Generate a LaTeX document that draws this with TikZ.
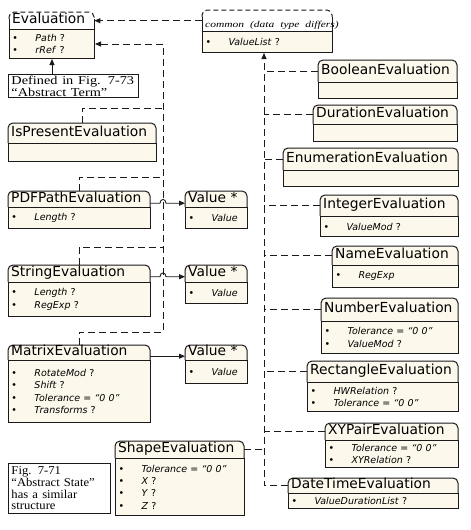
\documentclass[tikz,border=0pt]{standalone}
\usepackage{fontspec}
\usepackage{graphicx}
\setmainfont{DejaVu Sans}
\newfontfamily\serifface{Liberation Serif}
\usetikzlibrary{arrows.meta}
\definecolor{cream}{HTML}{FDF8EC}
\definecolor{lnc}{HTML}{1A1A1A}
\tikzset{
  hx/.style={},
  hdr/.style={inner ysep=0pt, inner xsep=3pt, align=left,
    font=\fontsize{13.8}{15}\selectfont, text height=9.6pt, text depth=3.6pt},
  bodyst/.style={draw=lnc, line width=1pt, fill=cream, inner ysep=0pt, inner xsep=3pt,
    align=left, font=\fontsize{9.5}{12.4}\selectfont},
  boxline/.style={draw=lnc, line width=1pt},
  conn/.style={draw=lnc, line width=0.9pt},
  dsh/.style={draw=lnc, line width=0.9pt, dash pattern=on 7pt off 4pt},
  tip/.style={-{Triangle[length=6pt,width=5pt]}},
  note/.style={draw=lnc, line width=1pt, fill=white, inner ysep=0pt, inner xsep=3pt,
    align=left, anchor=north west}
}
\newcommand\itm[1]{\makebox[23pt][l]{\textbullet}#1}
\newcommand\clsnode[8]{%
  \pgfmathsetmacro\clsw{#5-(#2)}%
  \pgfmathsetmacro\clstw{#5-(#2)-6}%
  \pgfmathsetmacro\clshh{#4-(#3)}%
  \pgfmathsetmacro\clsbh{#6-(#4)}%
  \node[hdr, hx, anchor=north west, minimum width=\clsw pt, minimum height=\clshh pt,
        text width=\clstw pt] (#1) at (#2,#3) {#7};
  \node[bodyst, anchor=north west, minimum width=\clsw pt, minimum height=\clsbh pt,
        text width=\clstw pt] (#1b) at (#2,#4) {#8};
}
\newcommand\ncls[8]{%
  \draw[boxline, fill=cream, rounded corners=5pt] (#2,#4) -- (#2,#3) -- (#5,#3) -- (#5,#4);
  \clsnode{#1}{#2}{#3}{#4}{#5}{#6}{#7}{#8}%
}
\newcommand\acls[8]{%
  \fill[white, rounded corners=5pt] (#2,#4) -- (#2,#3) -- (#5,#3) -- (#5,#4);
  \draw[boxline, dash pattern=on 5pt off 3pt, rounded corners=5pt]
    (#2,{#3+7}) -- (#2,#3) -- (#5,#3) -- (#5,{#3+7});
  \draw[boxline] (#2,{#3+7}) -- (#2,#4) (#5,{#3+7}) -- (#5,#4);
  \clsnode{#1}{#2}{#3}{#4}{#5}{#6}{#7}{#8}%
}
\begin{document}
\begin{tikzpicture}[x=1pt,y=-1pt]
\useasboundingbox[fill=white] (0,0) rectangle (471,530);

% abstract boxes
\acls{ev}{9}{12}{29}{94}{58}{Evaluation}{\itm{\textit{Path} ?}\\\itm{\textit{rRef} ?}}
\tikzset{hx/.style={text height=14pt,text depth=0pt}}
\acls{cm}{202}{10}{31}{332}{52}{\serifface\itshape\fontsize{9}{10}\selectfont\scalebox{1.28}[1]{common (data type differs)}}{\itm{\textit{ValueList} ?}}
\tikzset{hx/.style={}}

% left column
\ncls{isp}{8}{123}{143}{156}{161}{IsPresentEvaluation}{}
\ncls{pdf}{8}{191}{207}{150}{228}{PDFPathEvaluation}{\itm{\textit{Length} ?}}
\ncls{vone}{185}{191}{207}{247}{228}{Value *}{\itm{\textit{Value}}}
\ncls{str}{8}{265}{282}{150}{316}{StringEvaluation}{\itm{\textit{Length} ?}\\\itm{\textit{RegExp} ?}}
\ncls{vtwo}{185}{265}{282}{247}{303}{Value *}{\itm{\textit{Value}}}
\ncls{mat}{8}{345}{360}{150}{422}{MatrixEvaluation}{\itm{\textit{RotateMod} ?}\\\itm{\textit{Shift} ?}\\\itm{\textit{Tolerance = “0 0”}}\\\itm{\textit{Transforms} ?}}
\ncls{vthr}{185}{345}{360}{247}{383}{Value *}{\itm{\textit{Value}}}
\ncls{shp}{115}{441}{458}{244}{515}{ShapeEvaluation}{\itm{\textit{Tolerance = “0 0”}}\\\itm{\textit{X} ?}\\\itm{\textit{Y} ?}\\\itm{\textit{Z} ?}}

% right column
\ncls{bool}{318}{60}{82}{457}{98}{BooleanEvaluation}{}
\ncls{dur}{313}{105}{124}{457}{141}{DurationEvaluation}{}
\ncls{enu}{283}{148}{170}{458}{186}{EnumerationEvaluation}{}
\ncls{int}{320}{195}{216}{458}{236}{IntegerEvaluation}{\itm{\textit{ValueMod} ?}}
\ncls{nam}{332}{246}{265}{458}{287}{NameEvaluation}{\itm{\textit{RegExp}}}
\ncls{num}{321}{298}{321}{458}{353}{NumberEvaluation}{\itm{\textit{Tolerance = “0 0”}}\\\itm{\textit{ValueMod} ?}}
\ncls{rec}{307}{361}{382}{458}{411}{RectangleEvaluation}{\itm{\textit{HWRelation} ?}\\\itm{\textit{Tolerance = “0 0”}}}
\ncls{xyp}{325}{423}{440}{458}{467}{XYPairEvaluation}{\itm{\textit{Tolerance = “0 0”}}\\\itm{\textit{XYRelation} ?}}
\ncls{dt}{288}{478}{493}{458}{508}{DateTimeEvaluation}{\itm{\textit{ValueDurationList} ?}}

% notes
\node[note, minimum width=130pt, minimum height=23pt, text width=124pt,
      font=\serifface\fontsize{12}{10.5}\selectfont] (def) at (8,74)
  {\scalebox{1.19}[1]{Defined in Fig. 7-73}\\\scalebox{1.19}[1]{“Abstract Term”}};
\node[note, minimum width=102pt, minimum height=50pt, text width=96pt,
      font=\serifface\fontsize{12}{11.7}\selectfont] (fig) at (8,463)
  {\scalebox{1.05}[1]{Fig. 7-71}\\\scalebox{1.05}[1]{“Abstract State”}\\\scalebox{1.05}[1]{has a similar}\\\scalebox{1.05}[1]{structure}};

% connectors top
\draw[dsh,tip] (cm.west) -- (ev.east);
\draw[conn,tip] (evb.south |- def.north) -- (evb.south);

\coordinate (lv) at (163,0);
\coordinate (rv) at (264,0);

% left dashed tree
\draw[dsh,tip] (mat.north) -- ++(0,-13) -| (evb.east -| lv) -- (evb.east);
\path (isp.north) ++(0,-15) coordinate (bisp);
\draw[dsh] (isp.north) -- (bisp) -- (bisp -| lv);
\path (pdf.north) ++(0,-14) coordinate (bpdf);
\draw[dsh] (pdf.north) -- (bpdf) -- (bpdf -| lv);
\path (str.north) ++(0,-18) coordinate (bstr);
\draw[dsh] (str.north) -- (bstr) -- (bstr -| lv);

% arrows to Value boxes
\path ([yshift=-4pt]pdf.east) coordinate (apdf);
\path (apdf -| lv) coordinate (jpdf);
\draw[conn,tip] (apdf) -- ([xshift=-3pt]jpdf) .. controls +(0,-5) and +(0,-5) .. ([xshift=3pt]jpdf) -- (apdf -| vone.west);
\path ([yshift=-3pt]str.east) coordinate (astr);
\path (astr -| lv) coordinate (jstr);
\draw[conn,tip] (astr) -- ([xshift=-3pt]jstr) .. controls +(0,-5) and +(0,-5) .. ([xshift=3pt]jstr) -- (astr -| vtwo.west);
\path ([yshift=-3.5pt]mat.east) coordinate (amat);
\draw[conn,tip] (amat) -- (amat -| vthr.west);

% right dashed tree
\draw[dsh,tip] (dt.west) -| (cmb.south -| rv);
\foreach \n in {bool,dur,enu,int,nam,num,rec,xyp} {\draw[dsh] (\n.west) -- (\n.west -| rv);}
\draw[dsh] (shp.east) -- (shp.east -| rv);
\end{tikzpicture}
\end{document}
